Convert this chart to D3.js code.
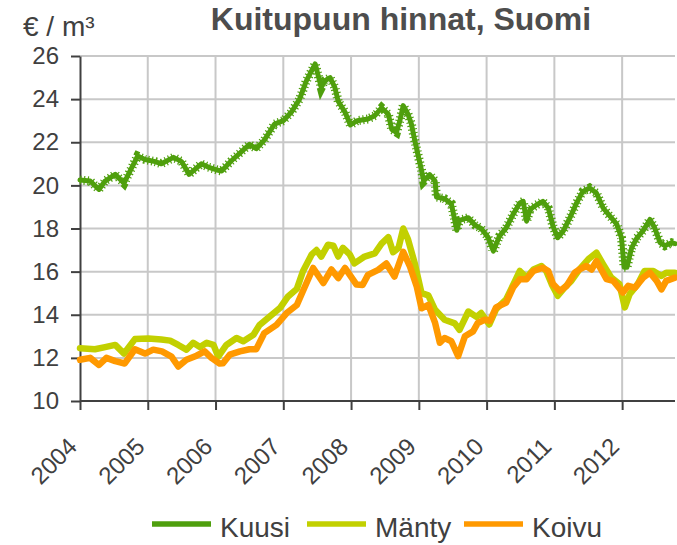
<!DOCTYPE html>
<html>
<head>
<meta charset="utf-8">
<script src="https://cdn.jsdelivr.net/npm/d3@7"></script>
<style>
  body { margin: 0; background: #fff; }
  svg { display: block; font-family: "Liberation Sans", Arial, sans-serif; }
</style>
</head>
<body>
<div id="chart"></div>
<script>
const W = 677, H = 545;
const margin = { left: 80, right: 2, top: 56, bottom: 144 };

const yearTicks = [2004, 2005, 2006, 2007, 2008, 2009, 2010, 2011, 2012];
const valueTicks = [10, 12, 14, 16, 18, 20, 22, 24, 26];
const seriesNames = ["Kuusi", "Mänty", "Koivu"];
const seriesColors = ["#4f9f0d", "#c2d000", "#ff9900"];

// [decimal year, €/m³]
const kuusi = [
  [2004.00,20.25],[2004.15,20.2],[2004.28,19.81],[2004.37,20.2],[2004.52,20.51],[2004.65,20.1],
  [2004.74,20.67],[2004.85,21.36],[2004.96,21.2],[2005.11,21.1],[2005.20,21.0],[2005.38,21.3],
  [2005.50,21.1],[2005.61,20.51],[2005.79,21.0],[2005.89,20.85],[2006.04,20.7],[2006.09,20.67],
  [2006.23,21.13],[2006.36,21.5],[2006.50,21.9],[2006.60,21.7],[2006.72,22.1],[2006.87,22.84],
  [2007.00,23.0],[2007.12,23.4],[2007.24,24.0],[2007.34,24.85],[2007.47,25.63],[2007.56,24.54],
  [2007.61,24.85],[2007.69,25.0],[2007.76,24.55],[2007.81,23.9],[2007.91,23.4],[2007.99,22.8],
  [2008.09,23.0],[2008.25,23.08],[2008.35,23.23],[2008.45,23.6],[2008.55,23.3],[2008.60,22.6],
  [2008.67,22.46],[2008.72,23.0],[2008.77,23.7],[2008.84,23.3],[2008.89,22.85],[2008.94,22.08],
  [2008.99,21.38],[2009.04,20.7],[2009.07,20.2],[2009.16,20.5],[2009.24,20.2],[2009.26,19.46],
  [2009.38,19.38],[2009.48,19.15],[2009.56,17.92],[2009.60,18.38],[2009.73,18.5],[2009.83,18.15],
  [2009.92,18.0],[2010.02,17.6],[2010.10,16.95],[2010.19,17.65],[2010.29,18.03],[2010.39,18.65],
  [2010.49,19.18],[2010.54,19.26],[2010.59,18.34],[2010.64,18.88],[2010.74,19.1],[2010.83,19.26],
  [2010.91,18.95],[2010.98,18.1],[2011.05,17.57],[2011.13,17.88],[2011.23,18.5],[2011.33,19.2],
  [2011.42,19.72],[2011.52,19.88],[2011.62,19.65],[2011.72,18.95],[2011.82,18.57],[2011.92,18.2],
  [2011.99,17.57],[2012.03,16.2],[2012.07,16.2],[2012.14,17.1],[2012.22,17.57],[2012.31,17.9],
  [2012.41,18.42],[2012.48,18.03],[2012.56,17.34],[2012.63,17.2],[2012.73,17.34],[2012.78,17.3]
];

const manty = [
  [2004.00,12.45],[2004.22,12.4],[2004.37,12.5],[2004.52,12.6],[2004.65,12.2],[2004.81,12.87],
  [2005.01,12.9],[2005.20,12.85],[2005.33,12.8],[2005.45,12.6],[2005.57,12.38],[2005.67,12.7],
  [2005.77,12.5],[2005.87,12.7],[2005.97,12.6],[2006.04,12.06],[2006.16,12.6],[2006.31,12.92],
  [2006.41,12.77],[2006.56,13.07],[2006.65,13.53],[2006.80,13.92],[2006.95,14.31],[2007.07,14.85],
  [2007.20,15.2],[2007.29,16.02],[2007.42,16.8],[2007.49,17.0],[2007.56,16.7],[2007.66,17.25],
  [2007.74,17.2],[2007.81,16.7],[2007.88,17.1],[2007.98,16.8],[2008.05,16.38],[2008.20,16.7],
  [2008.35,16.85],[2008.45,17.3],[2008.55,17.6],[2008.62,16.9],[2008.70,17.1],[2008.77,18.0],
  [2008.84,17.5],[2008.94,16.38],[2009.04,15.0],[2009.14,14.9],[2009.24,14.23],[2009.38,13.77],
  [2009.53,13.6],[2009.60,13.3],[2009.73,14.15],[2009.85,13.9],[2009.92,14.08],[2010.04,13.55],
  [2010.14,14.26],[2010.29,14.72],[2010.42,15.57],[2010.49,16.03],[2010.59,15.72],[2010.69,16.1],
  [2010.81,16.26],[2010.88,16.03],[2010.96,15.42],[2011.05,14.88],[2011.15,15.26],[2011.25,15.57],
  [2011.37,16.1],[2011.50,16.57],[2011.62,16.88],[2011.72,16.34],[2011.84,15.72],[2011.96,15.42],
  [2012.04,14.34],[2012.11,14.95],[2012.23,15.42],[2012.33,16.03],[2012.46,16.03],[2012.58,15.8],
  [2012.65,15.95],[2012.78,15.95]
];

const koivu = [
  [2004.00,11.91],[2004.15,12.0],[2004.28,11.67],[2004.39,12.0],[2004.52,11.85],[2004.66,11.74],
  [2004.81,12.4],[2004.96,12.2],[2005.08,12.38],[2005.21,12.3],[2005.35,12.06],[2005.45,11.6],
  [2005.57,11.91],[2005.72,12.1],[2005.84,12.3],[2005.94,12.0],[2006.06,11.74],[2006.11,11.75],
  [2006.21,12.15],[2006.36,12.3],[2006.50,12.4],[2006.60,12.4],[2006.72,13.15],[2006.90,13.53],
  [2007.05,14.08],[2007.20,14.45],[2007.29,15.1],[2007.44,16.17],[2007.59,15.47],[2007.71,16.1],
  [2007.81,15.7],[2007.91,16.17],[2008.08,15.4],[2008.17,15.38],[2008.25,15.85],[2008.40,16.08],
  [2008.52,16.38],[2008.64,15.77],[2008.77,16.92],[2008.87,16.23],[2008.97,15.3],[2009.04,14.3],
  [2009.14,14.46],[2009.24,13.62],[2009.31,12.7],[2009.38,12.92],[2009.48,12.77],[2009.58,12.08],
  [2009.68,13.0],[2009.80,13.23],[2009.87,13.62],[2009.97,13.77],[2010.05,13.72],[2010.14,14.34],
  [2010.29,14.57],[2010.39,15.26],[2010.49,15.65],[2010.59,15.65],[2010.69,16.03],[2010.83,16.18],
  [2010.91,16.03],[2010.98,15.42],[2011.08,15.1],[2011.18,15.34],[2011.30,15.95],[2011.37,16.1],
  [2011.47,16.26],[2011.55,16.1],[2011.62,16.49],[2011.69,16.1],[2011.77,15.65],[2011.87,15.57],
  [2012.01,15.03],[2012.09,15.34],[2012.19,15.26],[2012.31,15.72],[2012.41,15.95],[2012.51,15.57],
  [2012.58,15.18],[2012.65,15.57],[2012.78,15.72]
];

const series = [kuusi, manty, koivu];

const svg = d3.select("#chart").append("svg")
  .attr("width", W)
  .attr("height", H);

const x = d3.scaleLinear().domain([2004, 2012.78]).range([margin.left, W - margin.right]);
const y = d3.scaleLinear().domain([10, 26]).range([H - margin.bottom, margin.top]);

// grid
svg.append("g")
  .selectAll("line")
  .data(valueTicks.slice(1))
  .join("line")
  .attr("x1", x(2004)).attr("x2", x.range()[1])
  .attr("y1", d => y(d)).attr("y2", d => y(d))
  .attr("stroke", "#c8c8c8").attr("stroke-width", 2);

svg.append("g")
  .selectAll("line")
  .data(yearTicks.slice(1))
  .join("line")
  .attr("x1", d => x(d)).attr("x2", d => x(d))
  .attr("y1", y(10)).attr("y2", y(26))
  .attr("stroke", "#c8c8c8").attr("stroke-width", 2);

// axes
const yAxis = svg.append("g")
  .attr("transform", `translate(${margin.left},0)`)
  .call(d3.axisLeft(y).tickValues(valueTicks).tickSize(9).tickSizeOuter(0).tickPadding(12));

const xAxis = svg.append("g")
  .attr("transform", `translate(0,${y(10)})`)
  .call(d3.axisBottom(x).tickValues(yearTicks).tickFormat(d3.format("d")).tickSize(9).tickSizeOuter(0));

[yAxis, xAxis].forEach(g => {
  g.select(".domain").attr("stroke", "#404040").attr("stroke-width", 2);
  g.selectAll(".tick line").attr("stroke", "#404040").attr("stroke-width", 2);
  g.selectAll("text").attr("fill", "#404040").style("font-size", "24px")
    .style("font-family", "'Liberation Sans', Arial, sans-serif");
});
xAxis.select(".domain").attr("d", `M${x(2004)},0H${x.range()[1]}`);

xAxis.selectAll(".tick text")
  .attr("text-anchor", "end")
  .attr("dy", null)
  .attr("y", null)
  .attr("transform", "translate(-2,47) rotate(-45)");

// lines
const line = d3.line().x(d => x(d[0])).y(d => y(d[1]));

series.forEach((s, i) => {
  svg.append("path")
    .datum(s)
    .attr("fill", "none")
    .attr("stroke", seriesColors[i])
    .attr("stroke-width", i === 0 ? 5 : 6.5)
    .attr("stroke-linejoin", "round")
    .attr("stroke-linecap", "round")
    .attr("d", line);
  if (i === 0) {
    // bristly look of the spruce series
    svg.append("path")
      .datum(s)
      .attr("fill", "none")
      .attr("stroke", seriesColors[i])
      .attr("stroke-width", 9)
      .attr("stroke-dasharray", "1.2,2.6")
      .attr("d", line);
  }
});

// titles
svg.append("text")
  .attr("x", 401).attr("y", 30)
  .attr("text-anchor", "middle")
  .attr("fill", "#4d4d4d")
  .style("font-size", "32px")
  .style("font-weight", "bold")
  .text("Kuitupuun hinnat, Suomi");

svg.append("text")
  .attr("x", 23).attr("y", 36)
  .attr("fill", "#404040")
  .style("font-size", "28px")
  .text("€ / m³");

// legend
const legendX = [152, 307, 464];
const legend = svg.append("g")
  .selectAll("g")
  .data(seriesNames)
  .join("g")
  .attr("transform", (d, i) => `translate(${legendX[i]},524)`);

legend.append("line")
  .attr("x1", 0).attr("x2", 59)
  .attr("stroke", (d, i) => seriesColors[i])
  .attr("stroke-width", 5.5);

legend.append("text")
  .attr("x", 68).attr("y", 13)
  .attr("fill", "#404040")
  .style("font-size", "28px")
  .text(d => d);
</script>
</body>
</html>
